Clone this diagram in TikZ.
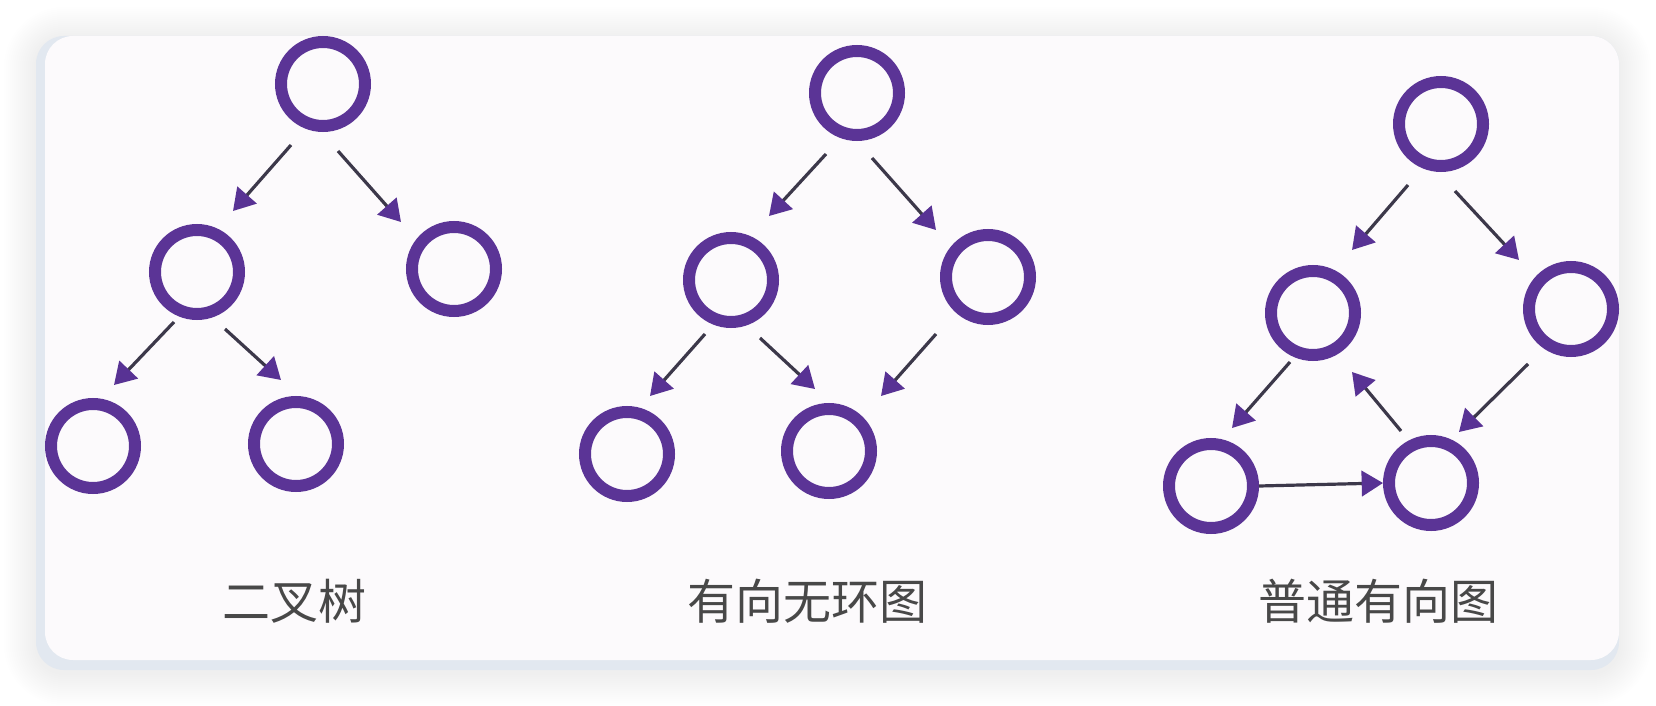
\documentclass[tikz,border=0pt]{standalone}
\usepackage{fontspec}
\newfontfamily\cjk{Noto Sans CJK SC}
\usepackage{xcolor}
\usetikzlibrary{arrows.meta}
\usetikzlibrary{calc}

\definecolor{ringPurple}{RGB}{91,52,150}
\definecolor{headPurple}{RGB}{88,50,148}
\definecolor{lineGrey}{RGB}{60,56,74}
\definecolor{txtGrey}{RGB}{72,72,72}
\definecolor{cardFill}{RGB}{252,250,252}
\definecolor{cardEdge}{RGB}{226,232,240}

\begin{document}
\begin{tikzpicture}[x=0.75pt,y=0.75pt,yscale=-1,xscale=1,
  vtx/.style={circle,draw=ringPurple,line width=9pt,minimum size=63pt,inner sep=0pt},
  link/.style={draw=lineGrey,line width=2.4pt,-{Triangle[length=16pt,width=19pt,color=headPurple]}},
  lbl/.style={font=\cjk\fontsize{36}{40}\selectfont,text=txtGrey,inner sep=0pt}]
\useasboundingbox (0,0) rectangle (1656,706);
\fill[white] (0,0) rectangle (1656,706);

%card with soft shadow
\foreach \s in {1,...,16}{
  \pgfmathsetmacro\rr{21+1.5*\s}
  \fill[black,opacity=0.0055,rounded corners=\rr pt] (36-2*\s,36-2*\s+3) rectangle (1619+2*\s,670+2*\s+3);
}
\fill[cardEdge,rounded corners=21pt] (36,36) rectangle (1619,670);
\fill[cardFill,rounded corners=21pt] (45,36) rectangle (1619,660);

%binary tree
\node[vtx] (tRoot) at (323,84) {};
\node[vtx] (tL) at (197,272) {};
\node[vtx] (tR) at (454,269) {};
\node[vtx] (tLL) at (93,446) {};
\node[vtx] (tLR) at (296,444) {};
\draw[link] ($(tRoot)+(-32,61)$) -- ($(tL)+(36,-61)$);
\draw[link] ($(tRoot)+(15,67)$) -- ($(tR)+(-53,-47)$);
\draw[link] ($(tL)+(-23,50)$) -- ($(tLL)+(21,-61)$);
\draw[link] ($(tL)+(28,57)$) -- ($(tLR)+(-15,-64)$);
\node[lbl] (tCap) at (294,601) {二叉树};

%DAG
\node[vtx] (dRoot) at (857,93) {};
\node[vtx] (dL) at (731,280) {};
\node[vtx] (dR) at (988,277) {};
\node[vtx] (dLL) at (627,454) {};
\node[vtx] (dLR) at (829,451) {};
\draw[link] ($(dRoot)+(-31,61)$) -- ($(dL)+(38,-64)$);
\draw[link] ($(dRoot)+(15,65)$) -- ($(dR)+(-52,-47)$);
\draw[link] ($(dL)+(-26,54)$) -- ($(dLL)+(23,-58)$);
\draw[link] ($(dL)+(29,58)$) -- ($(dLR)+(-14,-62)$);
\draw[link] ($(dR)+(-52,57)$) -- ($(dLR)+(52,-55)$);
\node[lbl] (dCap) at (807,601) {有向无环图};

%general digraph
\node[vtx] (gTop) at (1441,124) {};
\node[vtx] (gL) at (1313,313) {};
\node[vtx] (gR) at (1571,309) {};
\node[vtx] (gBL) at (1211,486) {};
\node[vtx] (gBR) at (1431,483) {};
\draw[link] ($(gTop)+(-33,61)$) -- ($(gL)+(39,-63)$);
\draw[link] ($(gTop)+(14,67)$) -- ($(gR)+(-52,-49)$);
\draw[link] ($(gL)+(-23,49)$) -- ($(gBL)+(21,-58)$);
\draw[link] ($(gBR)+(-30,-52)$) -- ($(gL)+(39,59)$);
\draw[link] ($(gR)+(-43,55)$) -- ($(gBR)+(28,-51)$);
\draw[link] (gBL.east) -- (gBR.west);
\node[lbl] (gCap) at (1378,601) {普通有向图};

\end{tikzpicture}
\end{document}
